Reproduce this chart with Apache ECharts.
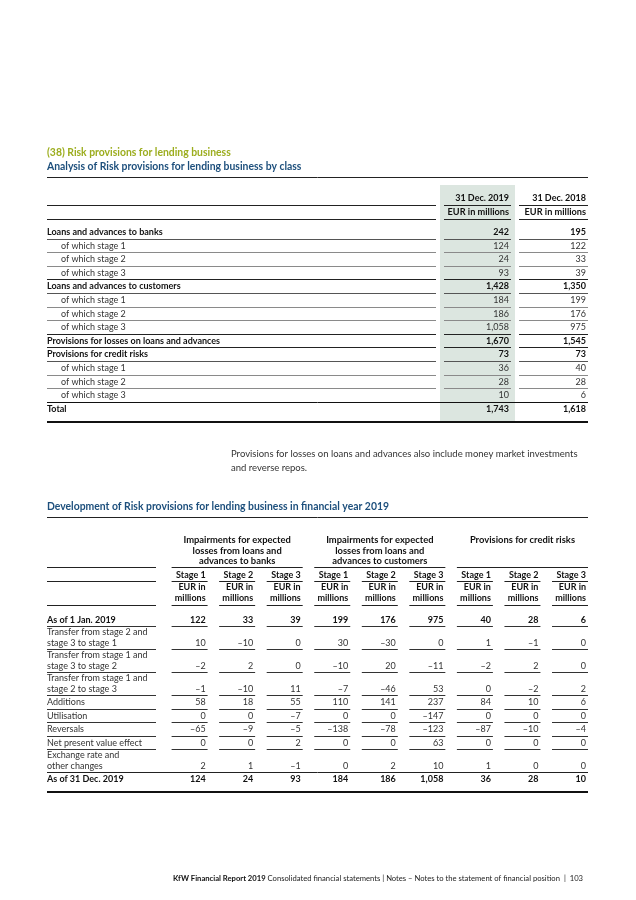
<!DOCTYPE html>
<html>
<head>
<meta charset="utf-8">
<script src="https://cdn.jsdelivr.net/npm/echarts@6/dist/echarts.min.js"></script>
<style>
html,body{margin:0;padding:0;background:#fff;}
#c{width:636px;height:900px;}
</style>
</head>
<body>
<div id="c"></div>
<script>
// ---------- DATA ----------
const sectionTitle = '(38) Risk provisions for lending business';
const t1Title = 'Analysis of Risk provisions for lending business by class';
const t1ColHeads = ['31 Dec. 2019', '31 Dec. 2018'];
const t1Unit = 'EUR in millions';
const t1Labels = [
  'Loans and advances to banks', 'of which stage 1', 'of which stage 2', 'of which stage 3',
  'Loans and advances to customers', 'of which stage 1', 'of which stage 2', 'of which stage 3',
  'Provisions for losses on loans and advances', 'Provisions for credit risks',
  'of which stage 1', 'of which stage 2', 'of which stage 3', 'Total'
];
const t1Level = [0, 1, 1, 1, 0, 1, 1, 1, 0, 0, 1, 1, 1, 0]; // 0 = bold row, 1 = indented sub-row
const t1Dec2019 = [242, 124, 24, 93, 1428, 184, 186, 1058, 1670, 73, 36, 28, 10, 1743];
const t1Dec2018 = [195, 122, 33, 39, 1350, 199, 176, 975, 1545, 73, 40, 28, 6, 1618];
const footnote = ['Provisions for losses on loans and advances also include money market investments', 'and reverse repos.'];

const t2Title = 'Development of Risk provisions for lending business in financial year 2019';
const t2Groups = [
  ['Impairments for expected', 'losses from loans and', 'advances to banks'],
  ['Impairments for expected', 'losses from loans and', 'advances to customers'],
  ['Provisions for credit risks']
];
const t2Stages = ['Stage 1', 'Stage 2', 'Stage 3'];
const t2Unit = ['EUR in', 'millions'];
const t2RowLabels = [
  ['As of 1 Jan. 2019'],
  ['Transfer from stage 2 and', 'stage 3 to stage 1'],
  ['Transfer from stage 1 and', 'stage 3 to stage 2'],
  ['Transfer from stage 1 and', 'stage 2 to stage 3'],
  ['Additions'],
  ['Utilisation'],
  ['Reversals'],
  ['Net present value effect'],
  ['Exchange rate and', 'other changes'],
  ['As of 31 Dec. 2019']
];
const t2RowBold = [true, false, false, false, false, false, false, false, false, true];
const asOfJan = [122, 33, 39, 199, 176, 975, 40, 28, 6];
const transferToStage1 = [10, -10, 0, 30, -30, 0, 1, -1, 0];
const transferToStage2 = [-2, 2, 0, -10, 20, -11, -2, 2, 0];
const transferToStage3 = [-1, -10, 11, -7, -46, 53, 0, -2, 2];
const additions = [58, 18, 55, 110, 141, 237, 84, 10, 6];
const utilisation = [0, 0, -7, 0, 0, -147, 0, 0, 0];
const reversals = [-65, -9, -5, -138, -78, -123, -87, -10, -4];
const npvEffect = [0, 0, 2, 0, 0, 63, 0, 0, 0];
const fxOther = [2, 1, -1, 0, 2, 10, 1, 0, 0];
const asOfDec = [124, 24, 93, 184, 186, 1058, 36, 28, 10];
const t2Values = [asOfJan, transferToStage1, transferToStage2, transferToStage3, additions,
  utilisation, reversals, npvEffect, fxOther, asOfDec];

const footerBold = 'KfW Financial Report 2019';
const footerText = ' Consolidated financial statements | Notes – Notes to the statement of financial position  |  103';

// ---------- LAYOUT / STYLE ----------
const FONT = 'Lato, "Noto Sans", sans-serif';
const SZ = 9;
const TSZ = 10.4;
const TXT = '#333', DARK = '#111', OLIVE = '#9cad1e', BLUE = '#1d4f7c';
const LEFT = 47, RIGHT = 588;
const els = [];

function fmt(v) {
  return (v < 0 ? '–' : '') + Math.abs(v).toLocaleString('en-US');
}
function T(x, y, text, o) {
  o = o || {};
  els.push({
    type: 'text', x: x, y: y, silent: true, z: 10,
    style: {
      text: text, fill: o.color || TXT,
      font: (o.bold ? 'bold ' : '') + (o.size || SZ) + 'px ' + FONT,
      align: o.align || 'left', verticalAlign: 'middle'
    }
  });
}
function L(x1, y, x2, color, w) {
  w = w || 1;
  const yy = Math.round(y) + (w % 2 ? 0.5 : 0);
  els.push({
    type: 'line', silent: true, z: 5,
    shape: { x1: x1, y1: yy, x2: x2, y2: yy },
    style: { stroke: color, lineWidth: w }
  });
}

// ---------- TITLES ----------
T(LEFT, 153, sectionTitle, { bold: true, color: OLIVE, size: TSZ });
T(LEFT, 167, t1Title, { bold: true, color: BLUE, size: TSZ });
L(LEFT, 177, RIGHT, '#222', 1);

// ---------- TABLE 1 ----------
const t1LabelEnd = 436;
const t1Cols = [{ s: 444, e: 511 }, { s: 519, e: RIGHT }];
const t1Shade = { x: 440, w: 75, top: 185, bottom: 422 };
els.push({ type: 'rect', silent: true, z: 1,
  shape: { x: t1Shade.x, y: t1Shade.top, width: t1Shade.w, height: t1Shade.bottom - t1Shade.top },
  style: { fill: '#dce6e0' } });

const t1HeadY = [198, 212];
t1ColHeads.forEach((h, c) => {
  T(t1Cols[c].e - 2, t1HeadY[0], h, { bold: true, color: DARK, align: 'right' });
  T(t1Cols[c].e - 2, t1HeadY[1], t1Unit, { bold: true, color: DARK, align: 'right', size: 9.2 });
});
[205, 219].forEach(y => {
  L(LEFT, y, t1LabelEnd, '#222');
  t1Cols.forEach(col => L(col.s, y, col.e, '#222'));
});

const t1Y0 = 232, t1Step = 13.6;
const t1Cols2 = [t1Dec2019, t1Dec2018];
t1Labels.forEach((lab, i) => {
  const y = t1Y0 + i * t1Step;
  const bold = t1Level[i] === 0;
  T(bold ? LEFT : LEFT + 14, y, lab, { bold: bold, color: bold ? DARK : TXT });
  t1Cols2.forEach((arr, c) => {
    T(t1Cols[c].e - 2, y, fmt(arr[i]), { bold: bold, color: bold ? DARK : TXT, align: 'right' });
  });
  if (i < t1Labels.length - 1) {
    const ly = y + 6.6;
    const nextBold = t1Level[i + 1] === 0;
    if (i === t1Labels.length - 2) {
      L(LEFT, ly, RIGHT, '#111');
    } else {
      const colr = nextBold ? '#222' : (bold ? '#555' : '#8a8a8a');
      L(LEFT, ly, t1LabelEnd, colr);
      t1Cols.forEach(col => L(col.s, ly, col.e, colr));
    }
  }
});
L(LEFT, 422, RIGHT, '#111', 2);

T(231, 454, footnote[0], { size: 9.5 });
T(231, 468, footnote[1], { size: 9.5 });

// ---------- TABLE 2 ----------
T(LEFT, 507, t2Title, { bold: true, color: BLUE, size: TSZ });
L(LEFT, 517, RIGHT, '#222', 1);

const t2LabelEnd = 156;
const t2Cols = [];
for (let k = 0; k < 9; k++) {
  const e = 207.6 + k * 47.55;
  t2Cols.push({ s: e - 36, e: e });
}
// group headers
t2Groups.forEach((g, gi) => {
  const s = t2Cols[gi * 3].s, e = t2Cols[gi * 3 + 2].e;
  const cx = (s + e) / 2;
  g.forEach((line, li) => T(cx, 540 + li * 10.5, line, { bold: true, color: DARK, align: 'center', size: 9.4 }));
  L(s, 567, e, '#222');
});
L(LEFT, 567, t2LabelEnd, '#222');
// stage + unit rows
t2Cols.forEach((col, k) => {
  T(col.e - 2, 575, t2Stages[k % 3], { bold: true, color: DARK, align: 'right' });
  T(col.e - 2, 587, t2Unit[0], { bold: true, color: DARK, align: 'right' });
  T(col.e - 2, 598, t2Unit[1], { bold: true, color: DARK, align: 'right' });
  L(col.s, 581, col.e, '#222');
  L(col.s, 605, col.e, '#222');
});
L(LEFT, 581, t2LabelEnd, '#222');
L(LEFT, 605, t2LabelEnd, '#222');

// body rows
let y2 = 620;
t2RowLabels.forEach((lab, r) => {
  if (r > 0) y2 += 13.5 + (lab.length - 1) * 9.5;
  const bold = t2RowBold[r];
  lab.forEach((ln, li) => {
    T(LEFT, y2 - (lab.length - 1 - li) * 11.2, ln, { bold: bold, color: bold ? DARK : TXT });
  });
  t2Values[r].forEach((v, k) => {
    T(t2Cols[k].e - 2, y2, fmt(v), { bold: bold, color: bold ? DARK : TXT, align: 'right' });
  });
  if (r < t2RowLabels.length - 1) {
    const ly = y2 + 6.3;
    if (r === t2RowLabels.length - 2) {
      L(LEFT, ly, RIGHT, '#222');
    } else {
      L(LEFT, ly, t2LabelEnd, '#333');
      t2Cols.forEach(col => L(col.s, ly, col.e, '#333'));
    }
  }
});
L(LEFT, 792, RIGHT, '#111', 2);

// ---------- FOOTER ----------
els.push({
  type: 'text', x: 583, y: 879, silent: true, z: 10,
  style: {
    text: '{b|' + footerBold + '}' + footerText,
    font: '7.65px ' + FONT, fill: '#222', align: 'right', verticalAlign: 'middle',
    rich: { b: { font: 'bold 7.65px ' + FONT, fill: '#111' } }
  }
});

const chart = echarts.init(document.getElementById('c'), null, { renderer: 'canvas' });
chart.setOption({ backgroundColor: '#fff', animation: false, graphic: { elements: els } });
</script>
</body>
</html>
